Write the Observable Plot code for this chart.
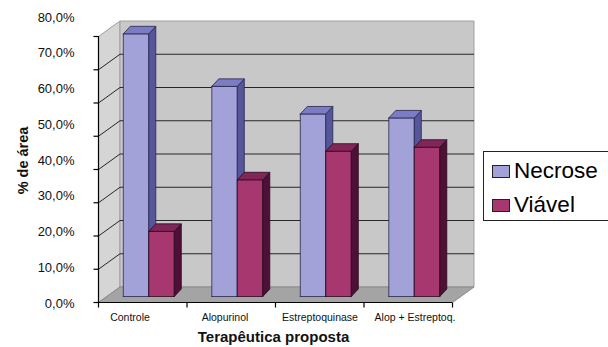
<!DOCTYPE html>
<html><head><meta charset="utf-8">
<script src="https://cdn.jsdelivr.net/npm/d3@7"></script>
<script src="https://cdn.jsdelivr.net/npm/@observablehq/plot@0.6"></script>
<style>
body{margin:0;background:#fff;}
#wrap{position:relative;width:608px;height:347px;overflow:hidden;font-family:"Liberation Sans",Arial,sans-serif;}
#wrap svg{position:absolute;left:0;top:0;}
#legend{position:absolute;left:483px;top:151px;width:140px;height:68px;border:1px solid #222;background:#fff;}
.item{position:absolute;left:8px;display:flex;align-items:center;font-size:22.5px;color:#000;}
.sw{width:16px;height:11px;border:1px solid #222;margin-right:4px;}
</style></head><body><div id="wrap"><div id="legend"></div></div>
<script>
const categories = ["Controle", "Alopurinol", "Estreptoquinase", "Alop + Estreptoq."];
const series = ["Necrose", "Viável"];
const necrose = [79.0, 63.2, 54.9, 53.7];
const viavel = [19.6, 35.1, 43.7, 44.9];
const yTicks = [0, 10, 20, 30, 40, 50, 60, 70, 80];
const xTitle = "Terapêutica proposta";
const yTitle = "% de área";

const faceColors = {
  "Necrose": {front: "#a2a2d9", side: "#56569c", top: "#7c7cc4", line: "#26264d"},
  "Viável": {front: "#a6386f", side: "#4e1036", top: "#82265a", line: "#2a0a1c"}
};

const W = 608, H = 347, mL = 98, mR = 156, mT = 36, mB = 45;
const n = categories.length, ymax = 80;
const kx = (W - mL - mR) / n, ky = (H - mT - mB) / ymax;
const ux = p => p / kx, uy = p => p / ky;
const WD = {x: ux(21.5), y: uy(15.5)};
const BAR = {off: ux(16.5), w: ux(25.5), fx: ux(8.3), fy: uy(6), dx: ux(7), dy: uy(7.5)};

function pushPoly(arr, id, pts, fill, stroke) {
  pts.concat([pts[0]]).forEach(([x, y]) => arr.push({id, x, y, fill, stroke}));
}

// walls and floor
const walls = [];
pushPoly(walls, "left", [[0, 0], [0, ymax], [WD.x, ymax + WD.y], [WD.x, WD.y]], "#d5d5d5", "#9c9c9c");
pushPoly(walls, "back", [[WD.x, WD.y], [n + WD.x, WD.y], [n + WD.x, ymax + WD.y], [WD.x, ymax + WD.y]], "#c8c8c8", "#a0a0a0");
pushPoly(walls, "floor", [[0, 0], [n, 0], [n + WD.x, WD.y], [WD.x, WD.y]], "#a4a4a4", "#8a8a8a");

const gridTicks = yTicks.filter(t => t > 0 && t < ymax);

// bars
const bars = [];
categories.forEach((c, i) => {
  series.forEach((s, k) => {
    const v = (k === 0 ? necrose : viavel)[i];
    const col = faceColors[s];
    const x0 = i + BAR.off + BAR.fx + k * BAR.w, x1 = x0 + BAR.w;
    const y0 = BAR.fy, y1 = BAR.fy + v;
    pushPoly(bars, `${c}-${s}-front`, [[x0, y0], [x1, y0], [x1, y1], [x0, y1]], col.front, col.line);
    pushPoly(bars, `${c}-${s}-side`, [[x1, y0], [x1 + BAR.dx, y0 + BAR.dy], [x1 + BAR.dx, y1 + BAR.dy], [x1, y1]], col.side, col.line);
    pushPoly(bars, `${c}-${s}-top`, [[x0, y1], [x1, y1], [x1 + BAR.dx, y1 + BAR.dy], [x0 + BAR.dx, y1 + BAR.dy]], col.top, col.line);
  });
});

const chart = Plot.plot({
  width: W, height: H,
  marginLeft: mL, marginRight: mR, marginTop: mT, marginBottom: mB,
  x: {type: "linear", domain: [0, n], axis: null},
  y: {type: "linear", domain: [0, ymax], axis: null},
  color: {type: "identity"},
  style: {background: "transparent"},
  marks: [
    Plot.line(walls, {x: "x", y: "y", z: "id", fill: "fill", stroke: "stroke", strokeWidth: 1}),
    Plot.link(gridTicks, {x1: WD.x, x2: n + WD.x, y1: d => d + WD.y, y2: d => d + WD.y, stroke: "#262626", strokeWidth: 1}),
    Plot.link(gridTicks, {x1: 0, x2: WD.x, y1: d => d, y2: d => d + WD.y, stroke: "#262626", strokeWidth: 1}),
    Plot.ruleX([0], {y1: 0, y2: ymax, stroke: "#000", strokeWidth: 1.2}),
    Plot.link(yTicks, {x1: 0, x2: ux(-5), y1: d => d, y2: d => d, stroke: "#000", strokeWidth: 1.2}),
    Plot.ruleY([0], {x1: 0, x2: n, stroke: "#000", strokeWidth: 1.2}),
    Plot.link(d3.range(n + 1), {x1: d => d, x2: d => d, y1: 0, y2: uy(-5), stroke: "#000", strokeWidth: 1.2}),
    Plot.line(bars, {x: "x", y: "y", z: "id", fill: "fill", stroke: "stroke", strokeWidth: 0.8, strokeLinejoin: "round"})
  ]
});

const labels = Plot.plot({
  width: W, height: H,
  marginLeft: 81.5, marginRight: 146.5, marginTop: 17, marginBottom: 44,
  x: {type: "band", domain: categories, padding: 0},
  y: {type: "linear", domain: [0, ymax]},
  style: {background: "transparent", fontFamily: "'Liberation Sans', Arial, sans-serif", color: "#111"},
  marks: [
    Plot.axisY({ticks: yTicks, tickSize: 0, tickPadding: 7.5, fontSize: 13, label: null,
      tickFormat: d => d.toFixed(1).replace(".", ",") + "%"}),
    Plot.axisX({tickSize: 0, tickPadding: 10.5, fontSize: 10.5, label: null}),
    Plot.text([xTitle], {frameAnchor: "bottom", lineAnchor: "bottom", textAnchor: "middle", dy: 38.5, dx: 1.5, fontSize: 15, fontWeight: "bold", fill: "#111"}),
    Plot.text([yTitle], {frameAnchor: "left", lineAnchor: "bottom", textAnchor: "middle", rotate: -90, dx: -54, dy: 0, fontSize: 14.5, fontWeight: "bold", fill: "#111"})
  ]
});

const wrap = document.getElementById("wrap");
wrap.insertBefore(chart, wrap.firstChild);
wrap.insertBefore(labels, chart.nextSibling);

const legend = document.getElementById("legend");
series.forEach((s, k) => {
  const it = document.createElement("div");
  it.className = "item";
  it.style.top = (k === 0 ? 6 : 40) + "px";
  const sw = document.createElement("div");
  sw.className = "sw";
  sw.style.background = faceColors[s].front;
  it.appendChild(sw);
  const tx = document.createElement("span");
  tx.textContent = s;
  it.appendChild(tx);
  legend.appendChild(it);
});
</script>
</body></html>
